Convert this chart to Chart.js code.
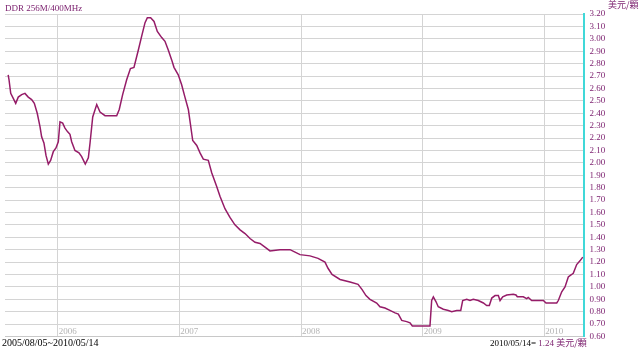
<!DOCTYPE html>
<html lang="zh-Hant">
<head>
    <meta charset="UTF-8">
    <title>DDR 256M/400MHz</title>
    <script src="https://cdn.jsdelivr.net/npm/chart.js"></script>
    <style>
        body { margin: 0; background: #fff; }
        #wrap { position: relative; width: 640px; height: 350px; }
        #wrap canvas { position: absolute; left: 0; top: 0; }
        .txt { position: absolute; font: 9px "Liberation Serif", serif; line-height: 10px; white-space: nowrap; }
        .purple { color: #7d2270; }
        .cjk { font-family: "Noto Sans CJK TC", sans-serif; }
    </style>
</head>
<body>
    <div id="wrap">
        <canvas id="priceChart" width="640" height="350"></canvas>
        <div class="txt purple" style="left:5px; top:3px;">DDR 256M/400MHz</div>
        <div class="txt purple cjk" style="left:608px; top:0px;">美元/顆</div>
        <div class="txt" style="left:2px; top:338px; font-size:10px;">2005/08/05~2010/05/14</div>
        <div class="txt" style="left:490px; top:338px;">2010/05/14= <span class="purple">1.24 <span class="cjk">美元/顆</span></span></div>
    </div>

    <script>
    // time as decimal years, price in USD per chip
    const dates = [
        2005.593, 2005.600, 2005.614, 2005.635, 2005.655, 2005.676, 2005.704, 2005.731, 2005.758, 2005.786,
        2005.808, 2005.832, 2005.855, 2005.868, 2005.887, 2005.904, 2005.923, 2005.942, 2005.964, 2005.986,
        2006.005, 2006.019, 2006.041, 2006.060, 2006.082, 2006.101, 2006.115, 2006.142, 2006.175, 2006.197,
        2006.227, 2006.252, 2006.266, 2006.288, 2006.321, 2006.348, 2006.389, 2006.485, 2006.506, 2006.534,
        2006.567, 2006.598, 2006.627, 2006.663, 2006.690, 2006.718, 2006.737, 2006.764, 2006.792, 2006.819,
        2006.855, 2006.882, 2006.909, 2006.937, 2006.956, 2006.991, 2007.019, 2007.046, 2007.074, 2007.110,
        2007.143, 2007.170, 2007.197, 2007.238, 2007.266, 2007.307, 2007.334, 2007.375, 2007.416, 2007.457,
        2007.499, 2007.540, 2007.581, 2007.622, 2007.663, 2007.704, 2007.745, 2007.827, 2007.910, 2007.951,
        2007.992, 2008.074, 2008.140, 2008.197, 2008.222, 2008.255, 2008.321, 2008.403, 2008.469, 2008.501,
        2008.534, 2008.567, 2008.622, 2008.649, 2008.690, 2008.731, 2008.773, 2008.800, 2008.828, 2008.869,
        2008.896, 2008.915, 2009.060, 2009.074, 2009.088, 2009.110, 2009.128, 2009.170, 2009.211, 2009.239,
        2009.280, 2009.313, 2009.329, 2009.362, 2009.389, 2009.416, 2009.457, 2009.499, 2009.526, 2009.548,
        2009.568, 2009.595, 2009.622, 2009.636, 2009.658, 2009.691, 2009.745, 2009.767, 2009.778, 2009.827,
        2009.855, 2009.868, 2009.896, 2009.992, 2010.014, 2010.102, 2010.115, 2010.143, 2010.170, 2010.197,
        2010.225, 2010.238, 2010.266, 2010.293, 2010.316
    ];
    const prices = [
        2.71, 2.67, 2.56, 2.52, 2.48, 2.53, 2.55, 2.56, 2.53, 2.51,
        2.48, 2.40, 2.29, 2.21, 2.16, 2.06, 1.99, 2.02, 2.09, 2.12,
        2.17, 2.33, 2.32, 2.28, 2.25, 2.23, 2.17, 2.10, 2.08, 2.05,
        1.99, 2.04, 2.16, 2.37, 2.47, 2.41, 2.38, 2.38, 2.43, 2.55,
        2.67, 2.76, 2.77, 2.91, 3.02, 3.13, 3.17, 3.17, 3.14, 3.06,
        3.01, 2.98, 2.91, 2.83, 2.77, 2.71, 2.63, 2.53, 2.43, 2.18,
        2.14, 2.08, 2.03, 2.02, 1.92, 1.81, 1.73, 1.63, 1.56, 1.50,
        1.46, 1.43, 1.39, 1.36, 1.35, 1.32, 1.29, 1.30, 1.30, 1.28,
        1.26, 1.25, 1.23, 1.20, 1.15, 1.10, 1.06, 1.04, 1.02, 0.98,
        0.93, 0.90, 0.87, 0.84, 0.83, 0.81, 0.79, 0.78, 0.73, 0.72,
        0.71, 0.685, 0.685, 0.89, 0.92, 0.88, 0.84, 0.82, 0.81, 0.80,
        0.81, 0.81, 0.89, 0.90, 0.89, 0.90, 0.89, 0.87, 0.85, 0.85,
        0.91, 0.93, 0.93, 0.89, 0.92, 0.935, 0.94, 0.935, 0.92, 0.92,
        0.905, 0.915, 0.89, 0.89, 0.87, 0.87, 0.89, 0.96, 1.00, 1.08,
        1.10, 1.11, 1.18, 1.21, 1.24
    ];
    const years = [2006, 2007, 2008, 2009, 2010];
    const yMin = 0.60;
    const yMax = 3.20;
    const yStep = 0.10;

    // year labels sit inside the plot, just right of each year gridline
    const yearLabels = {
        id: 'yearLabels',
        afterDraw(chart) {
            const x = chart.scales.x;
            const c = chart.ctx;
            c.save();
            c.font = '9px "Liberation Serif"';
            c.fillStyle = '#b4b4b4';
            c.textAlign = 'left';
            c.textBaseline = 'middle';
            years.forEach(yr => {
                c.fillText(String(yr), x.getPixelForValue(yr) + 1, chart.chartArea.bottom - 5);
            });
            c.restore();
        }
    };

    const ctx = document.getElementById("priceChart").getContext("2d");
    const priceChart = new Chart(ctx, {
        type: 'line',
        data: {
            datasets: [{
                data: dates.map((d, i) => ({ x: d, y: prices[i] })),
                borderColor: '#951c68',
                borderWidth: 1.5,
                pointRadius: 0,
                tension: 0
            }]
        },
        options: {
            responsive: false,
            animation: false,
            layout: { padding: { left: 5, top: 14, right: 0, bottom: 0 } },
            plugins: {
                legend: { display: false },
                tooltip: { enabled: false }
            },
            scales: {
                x: {
                    type: 'linear',
                    min: 2005.567,
                    max: 2010.322,
                    afterBuildTicks: axis => { axis.ticks = years.map(v => ({ value: v })); },
                    afterFit: axis => { axis.height = 13.5; },
                    grid: { color: '#d4d4d4', drawTicks: false },
                    border: { color: '#c8c8c8' },
                    ticks: { display: false }
                },
                y: {
                    position: 'right',
                    min: yMin,
                    max: yMax,
                    afterFit: axis => { axis.width = 56.5; },
                    grid: { color: '#d4d4d4', drawTicks: false },
                    border: { color: '#40d8d8', width: 2 },
                    ticks: {
                        stepSize: yStep,
                        autoSkip: false,
                        padding: 6,
                        color: '#7d2270',
                        font: { family: 'Liberation Serif', size: 9 },
                        callback: v => v.toFixed(2)
                    }
                }
            }
        },
        plugins: [yearLabels]
    });
    </script>
</body>
</html>
